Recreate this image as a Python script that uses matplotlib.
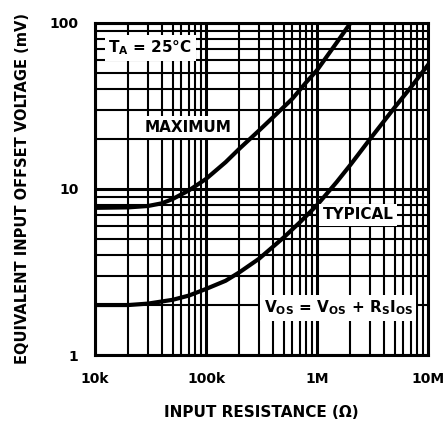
import matplotlib
matplotlib.use("Agg")
import matplotlib.pyplot as plt
from matplotlib.ticker import FixedLocator, LogLocator, NullFormatter

plt.rcParams["font.family"] = ["Liberation Sans Narrow", "DejaVu Sans"]
plt.rcParams["font.weight"] = "bold"
plt.rcParams["mathtext.fontset"] = "dejavusans"

# ── values ───────────────────────────────────────────────────────────────────
max_r = [10e3, 20e3, 30e3, 40e3, 50e3, 70e3, 100e3, 150e3, 200e3, 300e3, 400e3,
         600e3, 800e3, 1e6, 1.5e6, 2e6]
max_v = [7.7, 7.75, 7.9, 8.2, 8.7, 9.8, 11.5, 14.5, 17.5, 22.5, 27.0,
         35.0, 44.0, 52.0, 76.0, 100.0]

typ_r = [10e3, 20e3, 30e3, 50e3, 70e3, 100e3, 150e3, 200e3, 300e3, 500e3, 700e3,
         1e6, 1.5e6, 2e6, 3e6, 5e6, 7e6, 10e6]
typ_v = [2.0, 2.0, 2.04, 2.15, 2.28, 2.5, 2.8, 3.15, 3.8, 5.1, 6.3,
         8.0, 11.0, 14.0, 20.0, 31.0, 41.0, 56.0]

x_ticks = [1e4, 1e5, 1e6, 1e7]
x_labels = ["10k", "100k", "1M", "10M"]
y_ticks = [1, 10, 100]
y_labels = ["1", "10", "100"]

fig = plt.figure(figsize=(4.45, 4.25), dpi=100)
ax = fig.add_axes([0.2135, 0.1647, 0.7485, 0.7812])
ax.set_xscale("log")
ax.set_yscale("log")
ax.set_xlim(1e4, 1e7)
ax.set_ylim(1, 100)

ax.xaxis.set_major_locator(FixedLocator(x_ticks))
ax.yaxis.set_major_locator(FixedLocator(y_ticks))
ax.xaxis.set_minor_locator(LogLocator(base=10, subs=range(2, 10)))
ax.yaxis.set_minor_locator(LogLocator(base=10, subs=range(2, 10)))
ax.xaxis.set_minor_formatter(NullFormatter())
ax.yaxis.set_minor_formatter(NullFormatter())
ax.set_xticklabels(x_labels, fontsize=10, fontweight="bold")
ax.set_yticklabels(y_labels, fontsize=10, fontweight="bold")
ax.tick_params(which="both", length=0)
ax.tick_params(axis="x", pad=12)
ax.tick_params(axis="y", pad=12)

ax.grid(which="major", color="black", linewidth=2.2)
ax.grid(which="minor", color="black", linewidth=1.5)
for sp in ax.spines.values():
    sp.set_linewidth(2.2)

# curves
ax.plot(max_r, max_v, color="black", linewidth=3, solid_joinstyle="round", zorder=3)
ax.plot(typ_r, typ_v, color="black", linewidth=3, solid_joinstyle="round", zorder=3)

# labels on white boxes
box = dict(facecolor="white", edgecolor="none", pad=2.5)
ax.text(31.5e3, 71, r"T$_\mathbf{A}$ = 25°C", fontsize=11, ha="center", va="center",
        fontweight="bold", bbox=box, zorder=4)
ax.text(69e3, 23.6, "MAXIMUM", fontsize=11, ha="center", va="center",
        fontweight="bold", bbox=box, zorder=4)
ax.text(2.35e6, 7.0, "TYPICAL", fontsize=11, ha="center", va="center",
        fontweight="bold", bbox=box, zorder=4)
ax.text(1.55e6, 1.92, r"V$_\mathbf{OS}$ = V$_\mathbf{OS}$ + R$_\mathbf{S}$I$_\mathbf{OS}$",
        fontsize=11, ha="center", va="center", fontweight="bold", bbox=box, zorder=4)

ax.set_xlabel("INPUT RESISTANCE (Ω)", fontsize=11, fontweight="bold", labelpad=14)
ax.set_ylabel("EQUIVALENT INPUT OFFSET VOLTAGE (mV)", fontsize=10.5,
              fontweight="bold", labelpad=14)

fig.savefig("out.png", dpi=100)
